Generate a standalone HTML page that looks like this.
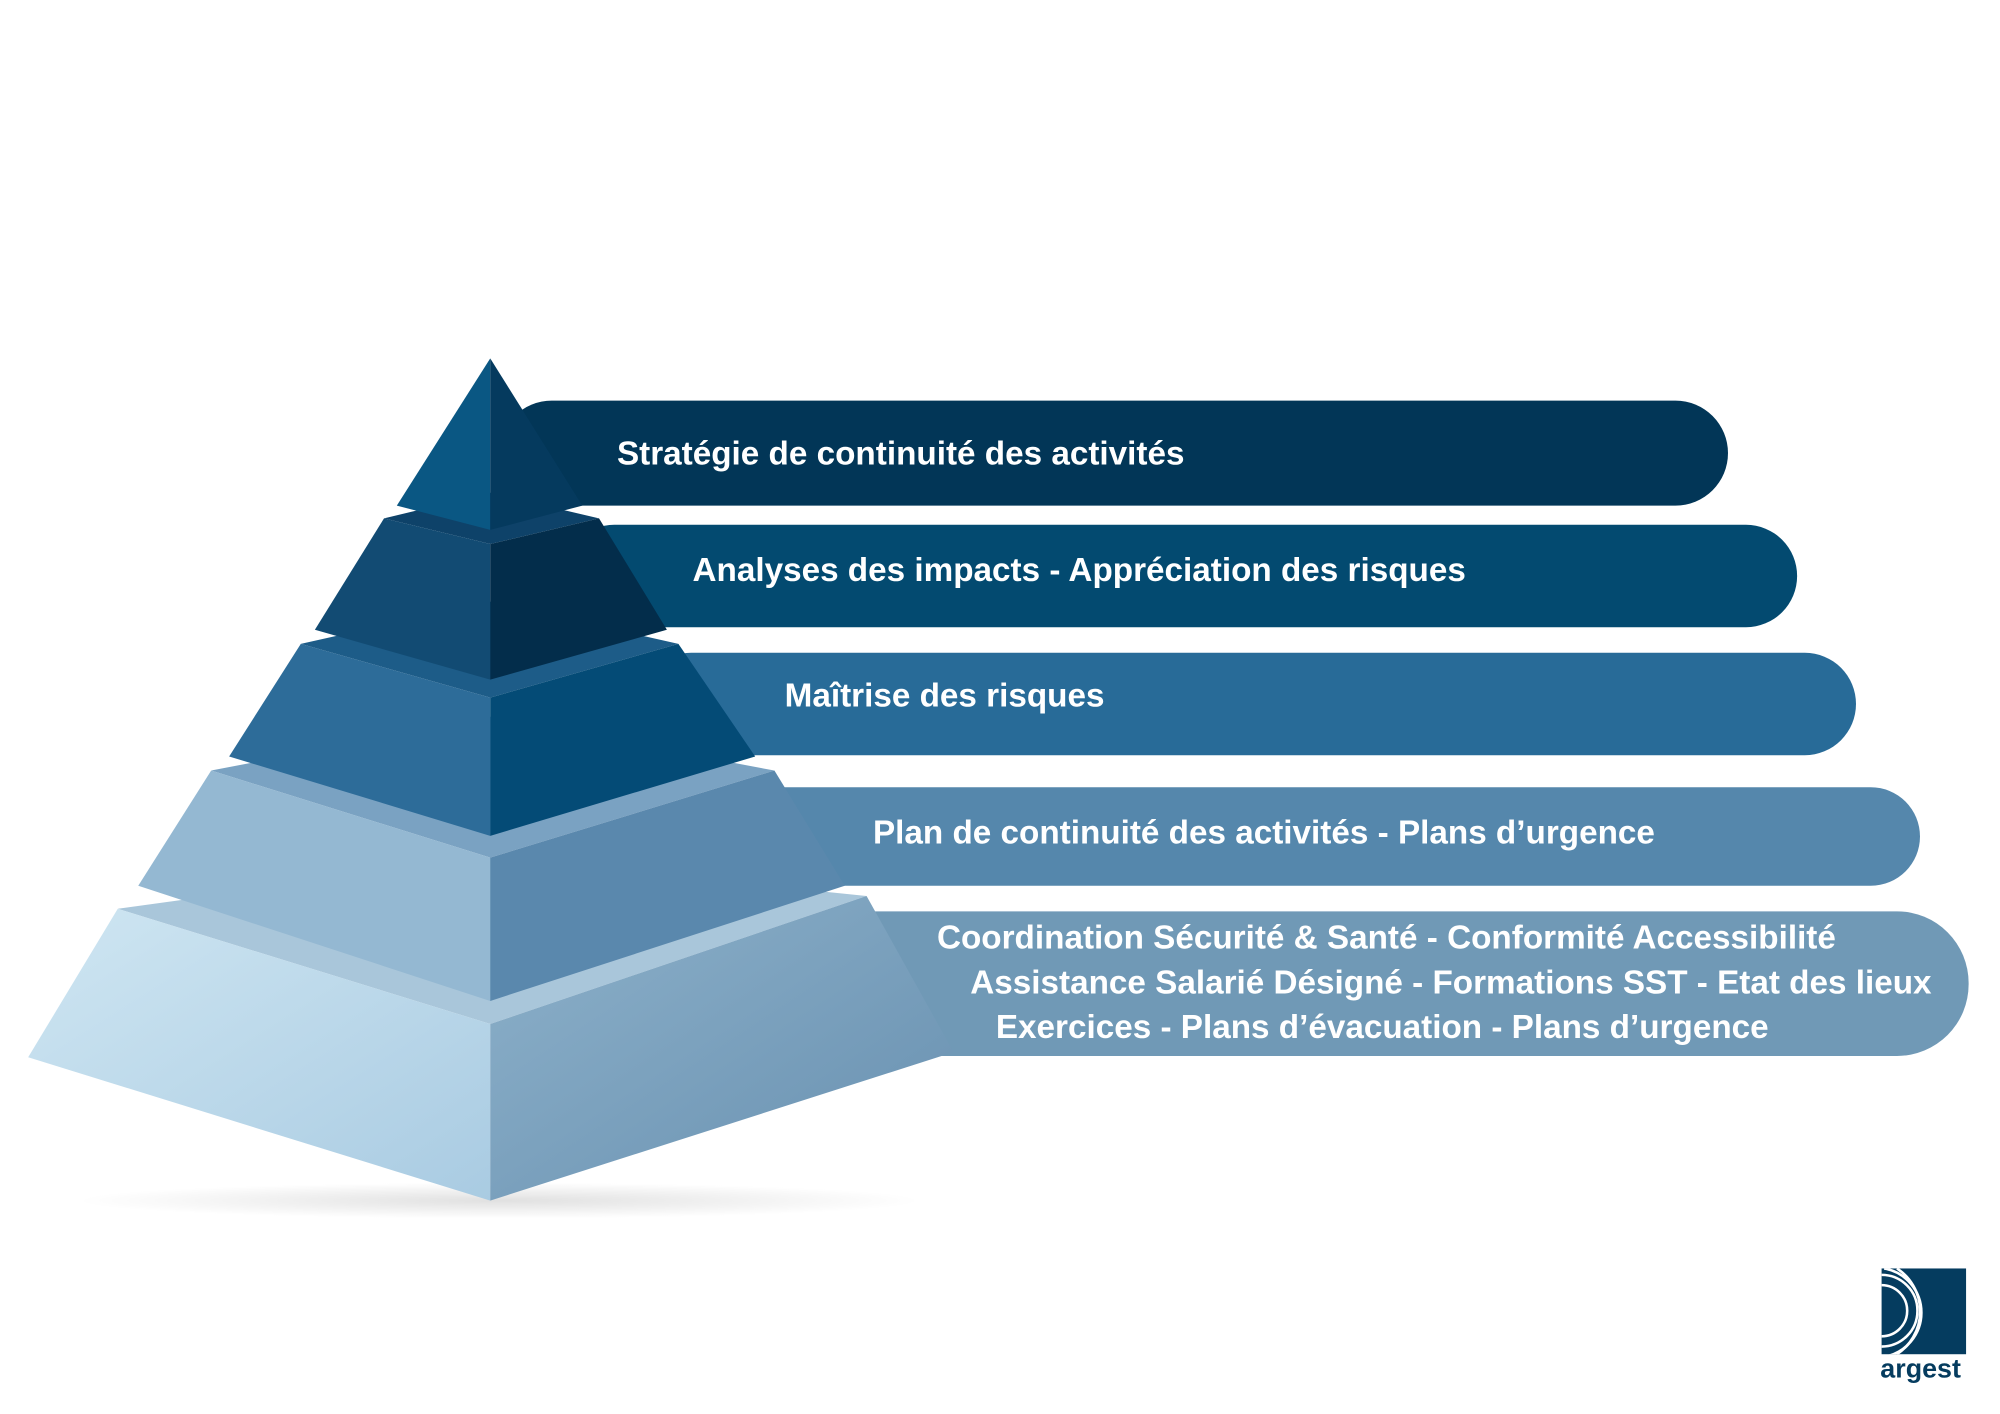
<!DOCTYPE html>
<html><head><meta charset="utf-8"><style>html,body{margin:0;padding:0;background:#fff}svg{display:block}</style></head>
<body>
<svg width="2000" height="1414" viewBox="0 0 1562.5 1104.7" xmlns="http://www.w3.org/2000/svg" font-family="'Liberation Sans',sans-serif" font-weight="bold">
<defs>
<linearGradient id="g5l" x1="0" y1="0" x2="1" y2="1"><stop offset="0" stop-color="#cfe6f2"/><stop offset="1" stop-color="#a9cbe2"/></linearGradient>
<linearGradient id="g5r" x1="0" y1="0" x2="1" y2="1"><stop offset="0" stop-color="#8db1ca"/><stop offset="1" stop-color="#6890b0"/></linearGradient>
<radialGradient id="sh" cx="0.5" cy="0.5" r="0.5"><stop offset="0" stop-color="#000" stop-opacity="0.12"/><stop offset="1" stop-color="#000" stop-opacity="0"/></radialGradient>
<clipPath id="lc"><rect x="1470" y="991" width="66" height="67"/></clipPath>
</defs>
<rect x="390" y="313" width="960" height="82" rx="41" fill="#023657"/>
<rect x="440" y="410" width="964" height="80" rx="40" fill="#034a70"/>
<rect x="500" y="510" width="950" height="80" rx="40" fill="#286b98"/>
<rect x="560" y="615" width="940" height="77" rx="38.5" fill="#5587ac"/>
<rect x="620" y="712" width="918" height="113" rx="56" fill="#7099b6"/>
<ellipse cx="390" cy="938" rx="330" ry="14" fill="url(#sh)"/>
<polygon points="92,710 383,800 677,700 383,670" fill="#a9c6da"/>
<polygon points="92,710 383,800 383,938 22,826" fill="url(#g5l)"/>
<polygon points="383,800 677,700 745,822 383,938" fill="url(#g5r)"/>
<polygon points="165,602 383,670 605,602 383,560" fill="#7aa2c2"/>
<polygon points="165,602 383,670 383,782 108,692" fill="#94b8d2"/>
<polygon points="383,670 605,602 660,692 383,782" fill="#5a88ad"/>
<polygon points="235,503 383,545 530,503 383,470" fill="#1d5c88"/>
<polygon points="235,503 383,545 383,653 179,591" fill="#2d6c99"/>
<polygon points="383,545 530,503 590,591 383,653" fill="#044b76"/>
<polygon points="300,405 383,425 468,405 383,385" fill="#0e4269"/>
<polygon points="300,405 383,425 383,531 246,492" fill="#124b73"/>
<polygon points="383,425 468,405 521,492 383,531" fill="#032d4b"/>
<polygon points="383,280 310,395 383,414" fill="#0a5783"/>
<polygon points="383,280 455,395 383,414" fill="#053a5e"/>
<g fill="#fff" font-size="26">
<text x="482" y="363">Stratégie de continuité des activités</text>
<text x="541" y="454">Analyses des impacts - Appréciation des risques</text>
<text x="613" y="552">Maîtrise des risques</text>
<text x="682" y="659">Plan de continuité des activités - Plans d’urgence</text>
<text x="732" y="741">Coordination Sécurité &amp; Santé - Conformité Accessibilité</text>
<text x="758" y="776">Assistance Salarié Désigné - Formations SST - Etat des lieux</text>
<text x="778" y="811">Exercices - Plans d’évacuation - Plans d’urgence</text>
</g>
<rect x="1470" y="991" width="66" height="67" fill="#053c5f"/>
<g fill="none" stroke="#fff" stroke-width="2" clip-path="url(#lc)">
<path d="M1470,1004 A20,20 0 0 1 1470,1044"/>
<path d="M1470,996 A28,28 0 0 1 1470,1052"/>
<path d="M1472,991 A35,35 0 0 1 1472,1060"/>
<path d="M1482,991 A40,40 0 0 1 1482,1058"/>
</g>
<text x="1469" y="1076" font-size="21" fill="#053c5f">argest</text>
</svg>
</body></html>
